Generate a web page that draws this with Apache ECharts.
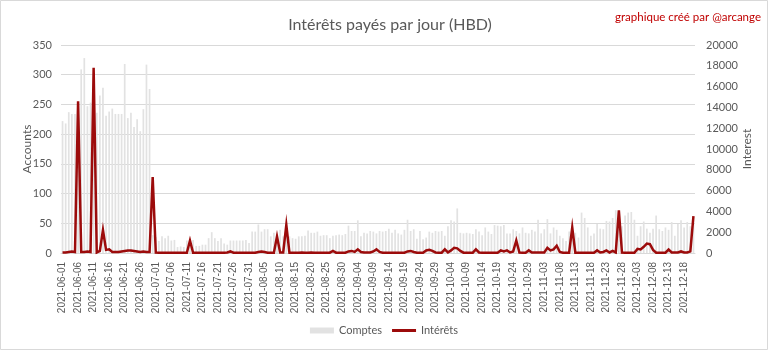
<!DOCTYPE html>
<html>
<head>
<meta charset="utf-8">
<script src="https://cdn.jsdelivr.net/npm/echarts@6/dist/echarts.min.js"></script>
<style>
  html, body { margin: 0; padding: 0; background: #fff; }
  #chart { width: 768px; height: 350px; }
</style>
</head>
<body>
<div id="chart"></div>
<script>
// Daily series, 2021-06-01 .. 2021-12-21
const startDate = '2021-06-01';
const dayCount = 204;

// Number of accounts paid interest each day
const comptes = [
  222, 218, 237, 234, 234, 236, 309, 328, 247, 253,
  250, 236, 265, 278, 231, 238, 243, 234, 234, 234,
  318, 227, 236, 212, 225, 205, 242, 317, 276, 30,
  27, 20, 28, 25, 29, 21, 22, 10, 11, 10,
  21, 17, 22, 12, 12, 14, 14, 25, 35, 25,
  20, 25, 16, 14, 21, 21, 21, 21, 21, 22,
  17, 36, 36, 48, 36, 40, 40, 28, 34, 30,
  39, 28, 30, 28, 25, 24, 28, 28, 29, 38,
  34, 34, 36, 29, 30, 30, 25, 29, 30, 31,
  30, 32, 46, 37, 37, 55, 28, 34, 33, 37,
  36, 33, 37, 36, 37, 41, 34, 39, 33, 31,
  39, 56, 37, 40, 24, 37, 23, 26, 36, 34,
  37, 36, 37, 29, 45, 55, 53, 75, 34, 33,
  34, 33, 32, 40, 36, 30, 43, 36, 32, 47,
  46, 45, 47, 33, 33, 40, 37, 33, 43, 34,
  33, 39, 36, 56, 33, 40, 57, 33, 43, 39,
  29, 25, 20, 36, 30, 34, 26, 68, 59, 43,
  29, 33, 49, 41, 40, 54, 53, 59, 72, 50,
  45, 63, 68, 69, 56, 29, 45, 53, 41, 34,
  41, 63, 40, 37, 43, 39, 52, 29, 49, 55,
  43, 52, 45, 50
];

// Interest paid each day (HBD)
const interets = [
  50, 50, 100, 150, 100, 14600, 100, 100, 150, 100,
  17800, 50, 200, 2200, 300, 350, 100, 100, 100, 150,
  200, 250, 250, 200, 150, 100, 150, 100, 100, 7300,
  50, 30, 30, 30, 30, 30, 30, 30, 30, 30,
  30, 1200, 30, 30, 30, 30, 30, 30, 30, 30,
  30, 30, 30, 50, 150, 30, 30, 30, 30, 30,
  30, 30, 30, 100, 150, 100, 30, 30, 30, 1600,
  50, 50, 2700, 30, 30, 30, 30, 50, 30, 30,
  50, 30, 30, 30, 30, 30, 30, 200, 30, 30,
  30, 30, 150, 200, 100, 350, 100, 50, 50, 50,
  150, 350, 100, 30, 30, 30, 30, 30, 30, 30,
  30, 150, 200, 100, 30, 30, 30, 250, 300, 200,
  50, 30, 30, 350, 50, 250, 500, 450, 200, 30,
  30, 30, 30, 350, 50, 30, 30, 30, 30, 30,
  30, 250, 150, 250, 50, 150, 1200, 50, 30, 30,
  250, 50, 50, 50, 50, 50, 500, 250, 350, 700,
  100, 30, 30, 30, 2450, 30, 30, 30, 30, 30,
  30, 30, 250, 50, 100, 250, 50, 200, 50, 4100,
  50, 30, 30, 30, 30, 400, 350, 600, 900, 850,
  300, 30, 30, 30, 30, 330, 50, 50, 50, 150,
  50, 50, 150, 3550
];

// Left and right axis ranges
const accountsTicks = { min: 0, max: 350, interval: 50 };
const interestTicks = { min: 0, max: 20000, interval: 2000 };

// Category labels: one per day
const dates = [];
{
  const d = new Date(startDate + 'T00:00:00Z');
  for (let i = 0; i < dayCount; i++) {
    dates.push(d.toISOString().slice(0, 10));
    d.setUTCDate(d.getUTCDate() + 1);
  }
}

const textGrey = '#595959';
const fontFam = 'Lato, "Liberation Sans", sans-serif';

const chart = echarts.init(document.getElementById('chart'), null, { renderer: 'canvas' });
chart.setOption({
  animation: false,
  backgroundColor: '#ffffff',
  title: {
    text: 'Intérêts payés par jour (HBD)',
    left: 385, top: 12, textAlign: 'center',
    textStyle: { fontFamily: fontFam, fontSize: 16, fontWeight: 'normal', color: textGrey }
  },
  graphic: [
    {
      type: 'rect', silent: true,
      shape: { x: 0.5, y: 0.5, width: 767, height: 349 },
      style: { fill: 'none', stroke: '#d9d9d9', lineWidth: 1 }
    },
    {
      type: 'text', right: 7, top: 11,
      style: { text: 'graphique créé par @arcange', fill: '#c00000', font: '11.5px ' + fontFam }
    }
  ],
  legend: {
    bottom: 9, left: 'center', itemGap: 10, itemWidth: 24, itemHeight: 6,
    textStyle: { fontFamily: fontFam, fontSize: 11, color: textGrey },
    data: [
      { name: 'Comptes', icon: 'rect' },
      { name: 'Intérêts', icon: 'path://M0,0 L24,0 L24,3 L0,3 Z' }
    ]
  },
  grid: { left: 61, right: 73, top: 45, bottom: 97 },
  xAxis: {
    type: 'category',
    data: dates,
    boundaryGap: true,
    axisLine: { show: true, lineStyle: { color: '#d9d9d9' } },
    axisTick: { show: false },
    axisLabel: {
      interval: 4, rotate: 90, margin: 9,
      fontFamily: '"Liberation Sans", sans-serif', fontSize: 10, color: textGrey
    }
  },
  yAxis: [
    {
      type: 'value', name: 'Accounts', nameLocation: 'middle', nameGap: 28, nameRotate: 90,
      nameMoveOverlap: false,
      nameTextStyle: { fontFamily: fontFam, fontSize: 12, color: textGrey },
      min: accountsTicks.min, max: accountsTicks.max, interval: accountsTicks.interval,
      axisLine: { show: false }, axisTick: { show: false },
      axisLabel: { fontFamily: fontFam, fontSize: 11, color: textGrey, margin: 9 },
      splitLine: { lineStyle: { color: '#d9d9d9', width: 1 } }
    },
    {
      type: 'value', name: 'Interest', nameLocation: 'middle', nameGap: 46, nameRotate: 90,
      nameMoveOverlap: false,
      position: 'right',
      nameTextStyle: { fontFamily: fontFam, fontSize: 12, color: textGrey },
      min: interestTicks.min, max: interestTicks.max, interval: interestTicks.interval,
      axisLine: { show: false }, axisTick: { show: false },
      axisLabel: {
        fontFamily: fontFam, fontSize: 11, color: textGrey, margin: 11,
        formatter: v => String(v)
      },
      splitLine: { show: false }
    }
  ],
  series: [
    {
      name: 'Comptes', type: 'bar', yAxisIndex: 0,
      data: comptes, barWidth: '55%',
      itemStyle: { color: '#e2e2e2' }
    },
    {
      name: 'Intérêts', type: 'line', yAxisIndex: 1,
      data: interets, showSymbol: false, symbol: 'none',
      lineStyle: { color: '#9c0b0b', width: 2.5, join: 'miter' },
      itemStyle: { color: '#9c0b0b' }
    }
  ]
});
</script>
</body>
</html>
